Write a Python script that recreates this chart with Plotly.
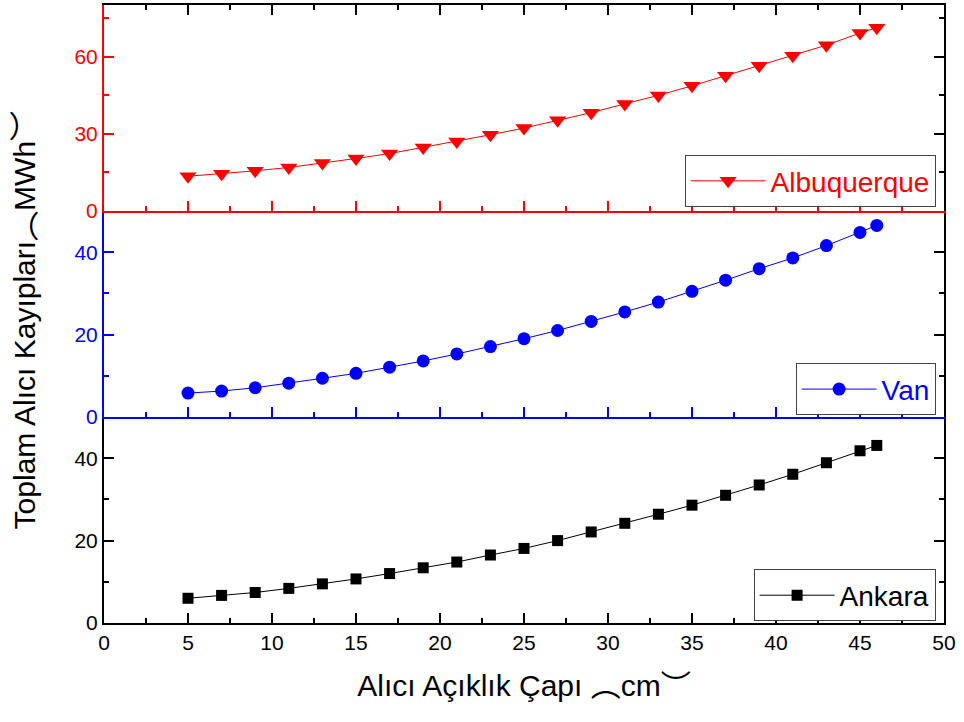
import plotly.graph_objects as go

# Receiver aperture diameter (cm)
diameter = [5, 7, 9, 11, 13, 15, 17, 19, 21, 23, 25, 27, 29, 31, 33, 35, 37, 39, 41, 43, 45, 46]

# Total receiver losses (MWh) per site
albuquerque = [13.5, 14.5, 15.6, 16.9, 18.6, 20.4, 22.3, 24.7, 27.0, 29.6, 32.2,
               35.2, 38.2, 41.6, 44.9, 48.6, 52.5, 56.4, 60.3, 64.4, 69.1, 71.2]
van = [5.8, 6.3, 7.1, 8.2, 9.4, 10.6, 12.1, 13.6, 15.3, 17.1, 19.0,
       21.0, 23.2, 25.5, 27.9, 30.5, 33.2, 36.0, 38.6, 41.6, 44.8, 46.5]
ankara = [6.0, 6.7, 7.4, 8.4, 9.5, 10.7, 12.0, 13.4, 14.8, 16.5, 18.1,
          20.0, 22.1, 24.2, 26.4, 28.6, 31.0, 33.5, 36.1, 38.9, 41.8, 43.1]

x_title = "Alıcı Açıklık Çapı ︵cm︶"
y_title = "Toplam Alıcı Kayıpları︵MWh︶"

RED = "#FF0000"
BLUE = "#0000FF"
BLACK = "#000000"
FONT = "Liberation Sans, Arial, Noto Sans CJK SC, sans-serif"

fig = go.Figure()

fig.add_trace(go.Scatter(
    x=diameter, y=ankara, name="Ankara", mode="lines+markers",
    line=dict(color=BLACK, width=1),
    marker=dict(symbol="square", size=11, color=BLACK),
    xaxis="x", yaxis="y", legend="legend"))
fig.add_trace(go.Scatter(
    x=diameter, y=van, name="Van", mode="lines+markers",
    line=dict(color=BLUE, width=1),
    marker=dict(symbol="circle", size=13, color=BLUE),
    xaxis="x2", yaxis="y2", legend="legend2"))
fig.add_trace(go.Scatter(
    x=diameter, y=albuquerque, name="Albuquerque", mode="lines+markers",
    line=dict(color=RED, width=1),
    marker=dict(symbol="triangle-down", size=15, color=RED),
    xaxis="x3", yaxis="y3", legend="legend3"))

# empty traces so the frame axes (top / right) are drawn
for xa, ya in [("x", "y4"), ("x2", "y5"), ("x3", "y6"), ("x4", "y3")]:
    fig.add_trace(go.Scatter(x=[None], y=[None], xaxis=xa, yaxis=ya,
                             showlegend=False, hoverinfo="skip"))

XR = [0, 50]


def xax(color, labels, anchor, **kw):
    d = dict(range=XR, anchor=anchor, showline=True, linecolor=color, linewidth=2,
             ticks="inside", ticklen=10, tickwidth=2, tickcolor=color,
             tick0=0, dtick=5, showticklabels=labels, showgrid=False, zeroline=False,
             minor=dict(ticks="inside", ticklen=5, tickwidth=2, tickcolor=color, dtick=2.5,
                        showgrid=False),
             tickfont=dict(family=FONT, size=21, color=BLACK))
    d.update(kw)
    return d


def yax(color, rng, dt, domain, labels=True, **kw):
    d = dict(range=rng, domain=domain, showline=True, linecolor=color, linewidth=2,
             ticks="inside", ticklen=10, tickwidth=2, tickcolor=color,
             tick0=0, dtick=dt, showticklabels=labels, showgrid=False, zeroline=False,
             minor=dict(ticks="inside", ticklen=5, tickwidth=2, tickcolor=color,
                        dtick=dt / 2, showgrid=False),
             tickfont=dict(family=FONT, size=21, color=color))
    d.update(kw)
    return d


def legend_box(y, color):
    return dict(x=0.99, y=y, xanchor="right", yanchor="middle",
                bordercolor="#444444", borderwidth=1, bgcolor="white", itemwidth=75,
                font=dict(family=FONT, size=28, color=color))


D1, D2, D3 = [0, 1 / 3], [1 / 3, 2 / 3], [2 / 3, 1]

fig.update_layout(
    width=964, height=722,
    margin=dict(l=104, r=20, t=5, b=99),
    paper_bgcolor="white", plot_bgcolor="white",
    font=dict(family=FONT, color=BLACK),
    xaxis=xax(BLACK, True, "y",
              title=dict(text=x_title, font=dict(family=FONT, size=30), standoff=22)),
    xaxis2=xax(BLUE, False, "y2"),
    xaxis3=xax(RED, False, "y3"),
    xaxis4=xax(BLACK, False, "y3", overlaying="x3", side="top"),
    yaxis=yax(BLACK, [0, 50], 20, D1),
    yaxis2=yax(BLUE, [0, 50], 20, D2),
    yaxis3=yax(RED, [0, 80], 30, D3),
    yaxis4=yax(BLACK, [0, 50], 20, D1, False, overlaying="y", side="right", anchor="x"),
    yaxis5=yax(BLACK, [0, 50], 20, D2, False, overlaying="y2", side="right", anchor="x2"),
    yaxis6=yax(BLACK, [0, 80], 30, D3, False, overlaying="y3", side="right", anchor="x3"),
    legend=legend_box(0.0445, BLACK),
    legend2=legend_box(0.378, BLUE),
    legend3=legend_box(0.715, RED),
    annotations=[dict(text=y_title, textangle=-90, xref="paper", yref="paper",
                      x=-0.095, y=0.49, xanchor="center", yanchor="middle",
                      showarrow=False, font=dict(family=FONT, size=30, color=BLACK))],
)

fig.write_html("out.html")
